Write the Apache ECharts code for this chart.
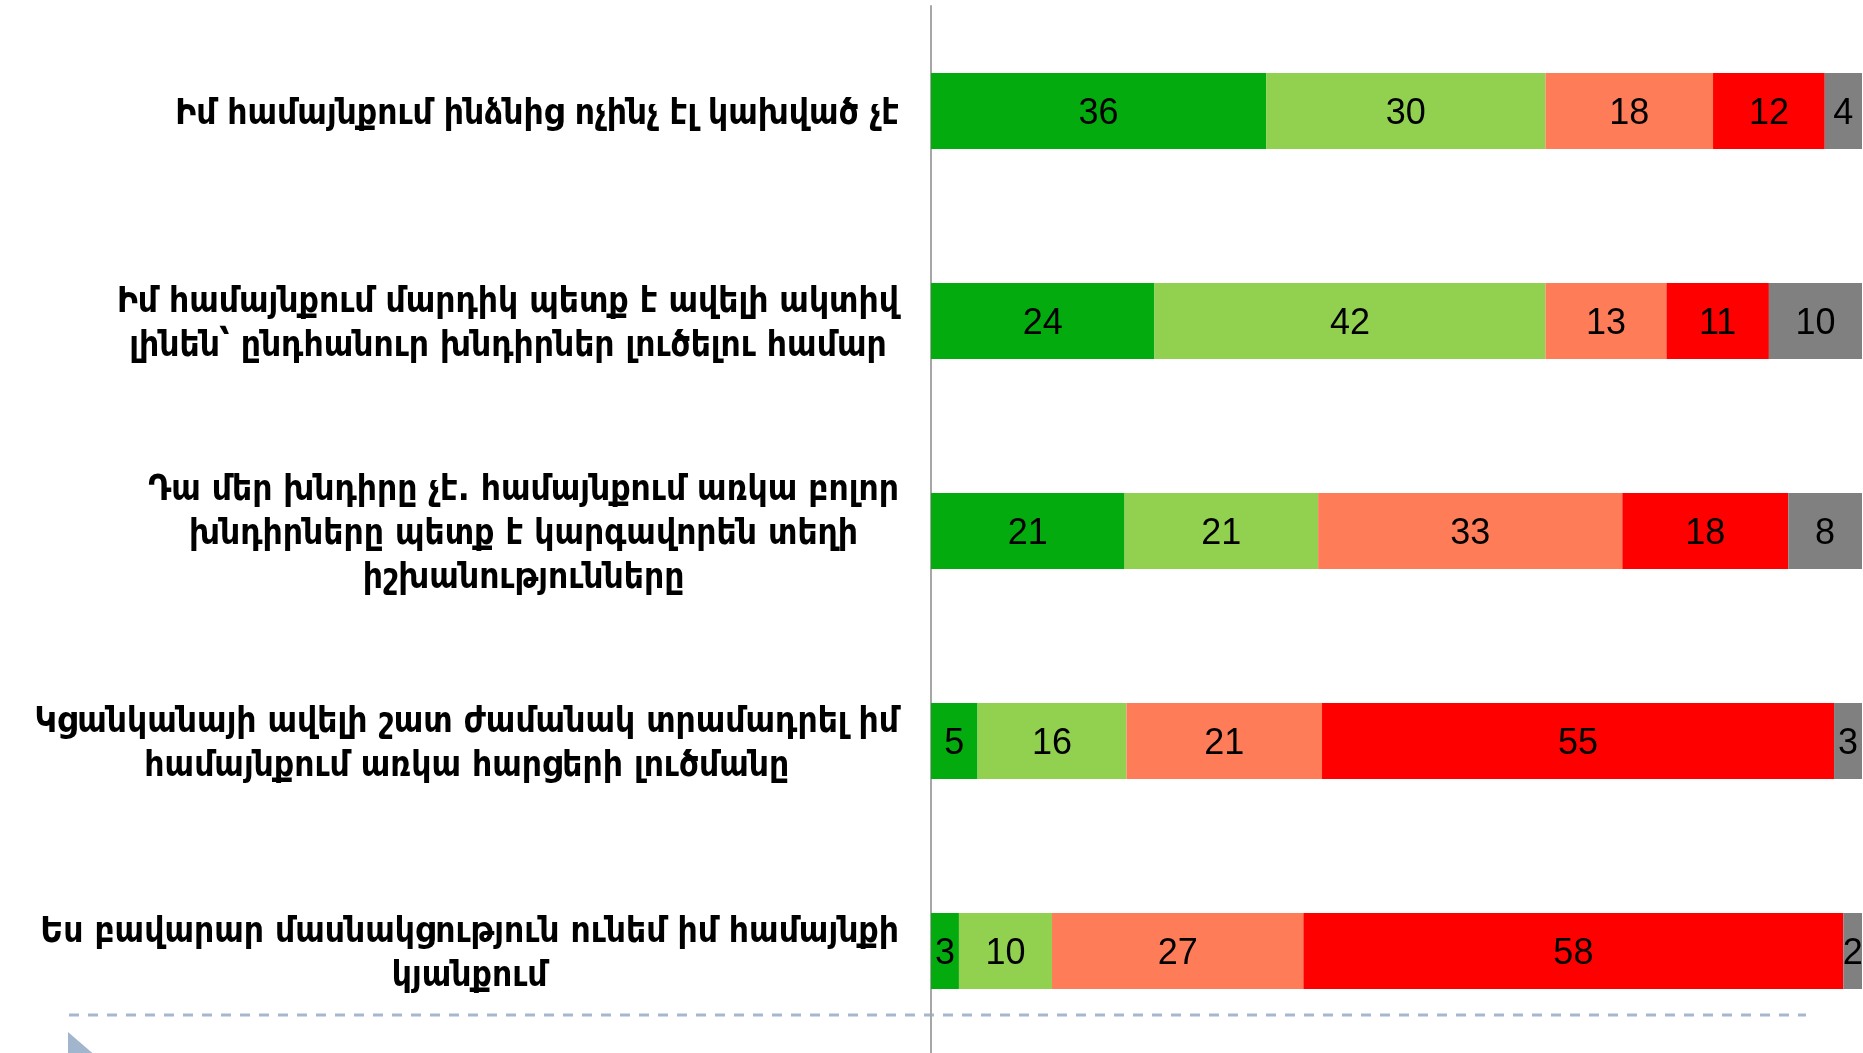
<!DOCTYPE html>
<html>
<head>
<meta charset="utf-8">
<script src="https://cdn.jsdelivr.net/npm/echarts@6/dist/echarts.min.js"></script>
<style>
html, body { margin: 0; padding: 0; background: #fff; }
#main { width: 1863px; height: 1053px; }
</style>
</head>
<body>
<div id="main"></div>
<script>
// statements, top to bottom (line breaks as on the slide)
var categories = [
    'Իմ համայնքում ինձնից ոչինչ էլ կախված չէ',
    'Իմ համայնքում մարդիկ պետք է ավելի ակտիվ\nլինեն՝ ընդհանուր խնդիրներ լուծելու համար',
    'Դա մեր խնդիրը չէ. համայնքում առկա բոլոր\nխնդիրները պետք է կարգավորեն տեղի\nիշխանությունները',
    'Կցանկանայի ավելի շատ ժամանակ տրամադրել իմ\nհամայնքում առկա հարցերի լուծմանը',
    'Ես բավարար մասնակցություն ունեմ իմ համայնքի\nկյանքում'
];

// answer shares per statement, same order as categories
var fullyAgree    = [36, 24, 21, 5, 3];
var ratherAgree   = [30, 42, 21, 16, 10];
var ratherDisagree = [18, 13, 33, 21, 27];
var fullyDisagree = [12, 11, 18, 55, 58];
var dontKnow      = [4, 10, 8, 3, 2];

var groups = [fullyAgree, ratherAgree, ratherDisagree, fullyDisagree, dontKnow];
var colors = ['#03ab0f', '#92d050', '#ff7c59', '#ff0000', '#808080'];

// row totals, so every bar fills the full width (rounded values)
var totals = categories.map(function (c, i) {
    var s = 0;
    groups.forEach(function (g) { s += g[i]; });
    return s;
});

var chart = echarts.init(document.getElementById('main'));

var series = groups.map(function (g, k) {
    return {
        type: 'bar',
        stack: 'all',
        barWidth: 76,
        itemStyle: { color: colors[k] },
        label: {
            show: true,
            position: 'inside',
            offset: [0, 3],
            color: '#000',
            fontSize: 36,
            fontFamily: 'Liberation Sans, Arial, sans-serif',
            formatter: function (p) {
                return g[p.dataIndex];
            }
        },
        data: g.map(function (v, i) { return v / totals[i] * 100; })
    };
});

option = {
    animation: false,
    grid: {
        left: 931,
        right: 1,
        top: 6,
        height: 1050,
        outerBoundsMode: 'none'
    },
    xAxis: {
        type: 'value',
        min: 0,
        max: 100,
        show: false
    },
    yAxis: {
        type: 'category',
        inverse: true,
        data: categories,
        axisLine: { show: true, lineStyle: { color: '#a6a6a6', width: 2 } },
        axisTick: { show: false },
        splitLine: { show: false },
        axisLabel: {
            interval: 0,
            margin: 32,
            align: 'right',
            padding: [7, 0, 0, 0],
            formatter: function (v) {
                return v.split('\n').map(function (l) { return '{c|' + l + '}'; }).join('\n');
            },
            rich: {
                c: {
                    align: 'center',
                    color: '#000',
                    fontSize: 35,
                    fontWeight: 'bold',
                    lineHeight: 44,
                    fontFamily: 'DejaVu Sans Condensed, DejaVu Sans, sans-serif'
                }
            }
        }
    },
    graphic: [
        {
            type: 'line',
            shape: { x1: 69, y1: 1015, x2: 1806, y2: 1015 },
            style: { stroke: '#a5b8cf', lineWidth: 3, lineDash: [10, 9] }
        },
        {
            type: 'polygon',
            shape: { points: [[68, 1032], [97, 1057], [68, 1082]] },
            style: { fill: '#a1b5cc' }
        }
    ],
    series: series
};

chart.setOption(option);
window.addEventListener('resize', function () {
    chart.resize();
});
</script>
</body>
</html>
